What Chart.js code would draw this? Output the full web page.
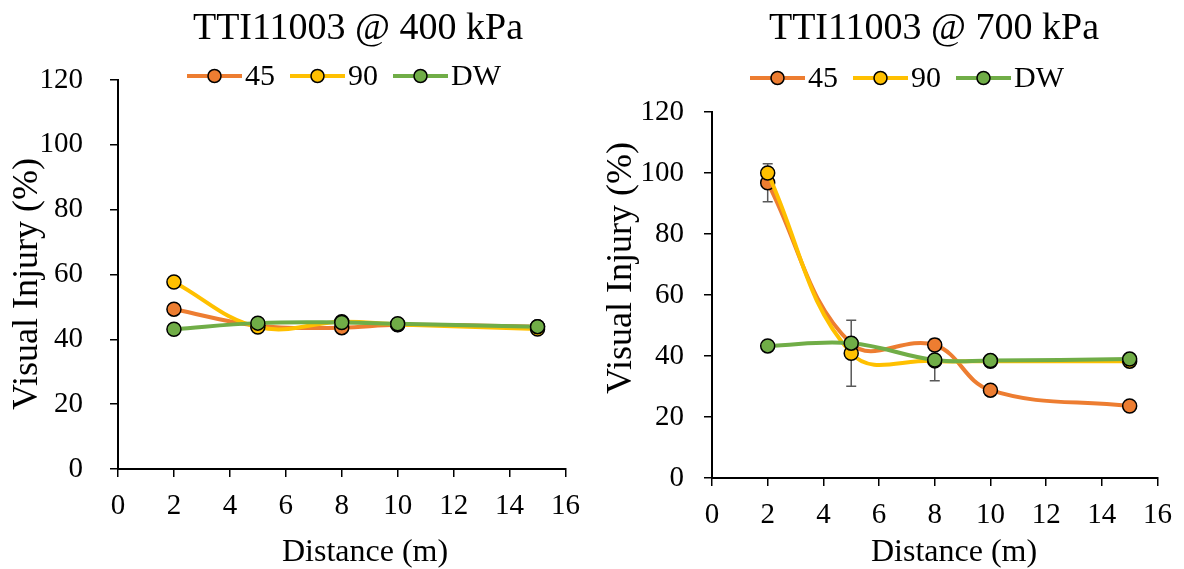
<!DOCTYPE html>
<html>
<head>
<meta charset="utf-8">
<script src="https://cdn.jsdelivr.net/npm/chart.js@4"></script>
<style>
  body { margin: 0; background: #fff; }
  .box { position: absolute; top: 0; width: 592px; height: 569px; }
</style>
</head>
<body>
<div class="box" style="left:0"><canvas id="chart400" width="592" height="569"></canvas></div>
<div class="box" style="left:592px"><canvas id="chart700" width="592" height="569"></canvas></div>
<script>
// data
var distance = [2, 5, 8, 10, 15];
var seriesNames = ["45", "90", "DW"];
var xTicks = [0, 2, 4, 6, 8, 10, 12, 14, 16];
var yTicks = [0, 20, 40, 60, 80, 100, 120];

// 400 kPa
var inj400_45 = [49.3, 44.2, 43.6, 44.5, 43.9];
var inj400_90 = [57.7, 43.8, 45.4, 44.6, 43.2];
var inj400_DW = [43.1, 45.0, 45.2, 44.8, 43.9];

// 700 kPa
var inj700_45 = [96.8, 44.0, 43.6, 28.8, 23.6];
var inj700_90 = [100.0, 40.9, 38.4, 38.3, 38.3];
var inj700_DW = [43.3, 44.2, 38.7, 38.5, 39.0];
var err700_45 = [6.2, 0, 0, 0, 0];
var err700_90 = [0, 10.8, 0, 0, 0];
var err700_DW = [0, 0, 6.8, 0, 0];

var colors = ["#ED7D31", "#FFC000", "#70AD47"];
var serif = "'Liberation Serif', 'Times New Roman', serif";

Chart.defaults.font.family = serif;
Chart.defaults.color = "#000";

var errorBars = {
  id: "errorBars",
  beforeDatasetsDraw: function (chart) {
    var ctx = chart.ctx, xs = chart.scales.x, ys = chart.scales.y;
    ctx.save();
    ctx.strokeStyle = "#595959";
    ctx.lineWidth = 1.5;
    chart.data.datasets.forEach(function (ds) {
      if (!ds.errors) return;
      ds.data.forEach(function (p, i) {
        var e = ds.errors[i];
        if (!e) return;
        var x = xs.getPixelForValue(p.x);
        var y1 = ys.getPixelForValue(p.y + e), y2 = ys.getPixelForValue(p.y - e);
        ctx.beginPath();
        ctx.moveTo(x, y1); ctx.lineTo(x, y2);
        ctx.moveTo(x - 5, y1); ctx.lineTo(x + 5, y1);
        ctx.moveTo(x - 5, y2); ctx.lineTo(x + 5, y2);
        ctx.stroke();
      });
    });
    ctx.restore();
  }
};

// title position, legend row and axis titles, placed like Excel did
var headerAndTitles = {
  id: "headerAndTitles",
  afterLayout: function (chart) {
    var o = chart.options.plugins.headerAndTitles;
    var t = chart.titleBlock;
    t.left = o.titleX - 280; t.right = o.titleX + 280;
  },
  afterDraw: function (chart) {
    var o = chart.options.plugins.headerAndTitles;
    var ctx = chart.ctx;
    ctx.save();
    ctx.fillStyle = "#000";
    ctx.textBaseline = "middle";

    // legend: line + dot marker, then label
    ctx.font = "30px " + serif;
    var x = o.legendX, y = o.legendY;
    chart.data.datasets.forEach(function (ds, i) {
      ctx.strokeStyle = colors[i]; ctx.lineWidth = 4;
      ctx.beginPath(); ctx.moveTo(x, y); ctx.lineTo(x + 55, y); ctx.stroke();
      ctx.beginPath(); ctx.arc(x + 27.5, y, 6.5, 0, Math.PI * 2);
      ctx.fillStyle = colors[i]; ctx.fill();
      ctx.strokeStyle = "#000"; ctx.lineWidth = 1.5; ctx.stroke();
      ctx.fillStyle = "#000";
      ctx.textAlign = "left";
      ctx.fillText(ds.label, x + 58, y + 1);
      x += 58 + ctx.measureText(ds.label).width + 15;
    });

    // axis titles
    ctx.textAlign = "center";
    ctx.font = "32px " + serif;
    ctx.fillText("Distance (m)", o.xTitleX, o.xTitleY);
    ctx.translate(o.yTitleX, o.yTitleY);
    ctx.rotate(-Math.PI / 2);
    ctx.font = "36px " + serif;
    ctx.fillText("Visual Injury (%)", 0, 0);
    ctx.restore();
  }
};

function makeChart(id, title, s45, s90, sDW, errs, box) {
  var values = [s45, s90, sDW];
  var datasets = values.map(function (v, k) {
    return {
      label: seriesNames[k],
      data: distance.map(function (d, i) { return { x: d, y: v[i] }; }),
      errors: errs ? errs[k] : null,
      borderColor: colors[k],
      backgroundColor: colors[k],
      pointBackgroundColor: colors[k],
      pointBorderColor: "#000",
      pointBorderWidth: 1.5,
      pointRadius: 7,
      borderWidth: 4,
      tension: 0.4,
      order: 2 - k
    };
  });

  return new Chart(document.getElementById(id), {
    type: "line",
    data: { datasets: datasets },
    options: {
      responsive: false,
      animation: false,
      layout: { padding: { left: 0, right: box.padRight, top: 0, bottom: 0 } },
      plugins: {
        tooltip: { enabled: false },
        legend: { display: false },
        title: {
          display: true,
          text: title,
          font: { size: 38, weight: "normal", lineHeight: 1 },
          color: "#000",
          padding: { top: 10, bottom: box.plotTop - 48 }
        },
        headerAndTitles: box
      },
      scales: {
        x: {
          type: "linear",
          min: 0,
          max: 16,
          afterBuildTicks: function (s) { s.ticks = xTicks.map(function (v) { return { value: v }; }); },
          afterFit: function (s) { s.height = 569 - box.plotBottom; },
          ticks: { font: { size: 29 }, padding: 12, maxRotation: 0 },
          grid: { drawOnChartArea: false, color: "#000", lineWidth: 1.5, tickLength: 8 },
          border: { color: "#000", width: 2 }
        },
        y: {
          min: 0,
          max: 120,
          afterBuildTicks: function (s) { s.ticks = yTicks.map(function (v) { return { value: v }; }); },
          afterFit: function (s) { s.width = box.plotLeft; },
          ticks: { font: { size: 29 }, padding: box.yPad },
          grid: { drawOnChartArea: false, color: "#000", lineWidth: 1.5, tickLength: 8 },
          border: { color: "#000", width: 2 }
        }
      }
    },
    plugins: [errorBars, headerAndTitles]
  });
}

makeChart("chart400", "TTI11003 @ 400 kPa", inj400_45, inj400_90, inj400_DW, null, {
  plotLeft: 118, plotTop: 80, plotBottom: 469, padRight: 25, yPad: 27,
  titleX: 358, legendX: 187, legendY: 76,
  xTitleX: 365, xTitleY: 553, yTitleX: 28, yTitleY: 284
});

makeChart("chart700", "TTI11003 @ 700 kPa", inj700_45, inj700_90, inj700_DW, [err700_45, err700_90, err700_DW], {
  plotLeft: 120, plotTop: 112, plotBottom: 478, padRight: 24, yPad: 20,
  titleX: 342, legendX: 158, legendY: 78,
  xTitleX: 362, xTitleY: 553, yTitleX: 30, yTitleY: 268
});
</script>
</body>
</html>
